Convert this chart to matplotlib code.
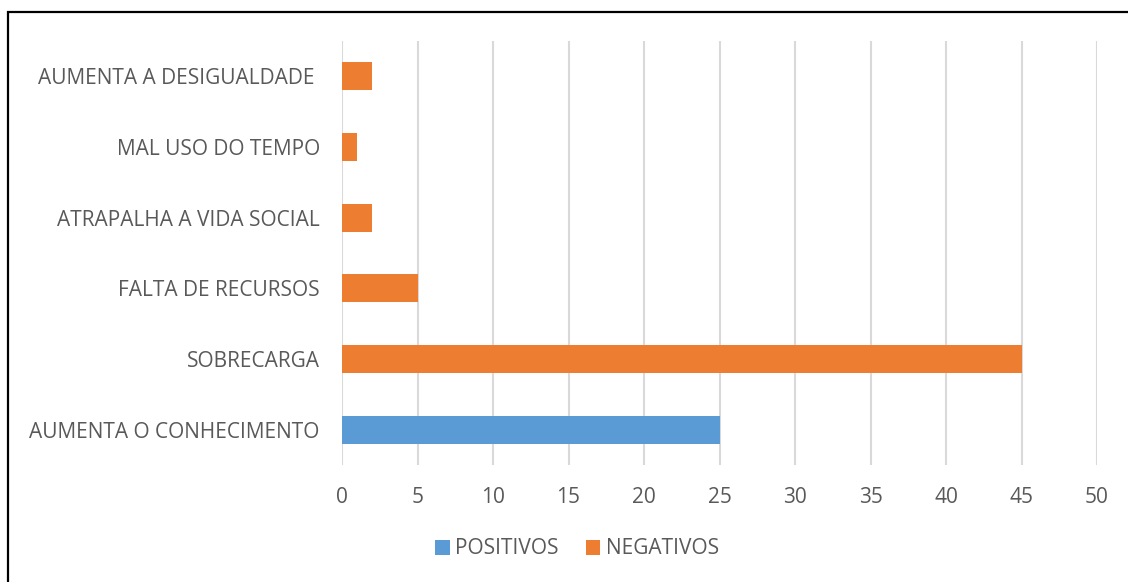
import matplotlib.pyplot as plt
from matplotlib.patches import Rectangle

categorias = [
    "AUMENTA O CONHECIMENTO",
    "SOBRECARGA",
    "FALTA DE RECURSOS",
    "ATRAPALHA A VIDA SOCIAL",
    "MAL USO DO TEMPO",
    "AUMENTA A DESIGUALDADE ",
]
positivos = [25, 0, 0, 0, 0, 0]
negativos = [0, 45, 5, 2, 1, 2]
x_ticks = list(range(0, 55, 5))

AZUL = "#5B9BD5"
LARANJA = "#ED7D31"
TEXTO = "#595959"
GRADE = "#D9D9D9"
FS = 15

plt.rcParams["font.family"] = ["Open Sans", "DejaVu Sans"]

fig = plt.figure(figsize=(11.28, 5.82), dpi=100)
ax = fig.add_axes([342 / 1128, 1 - 465 / 582, (1097 - 342) / 1128, (465 - 41) / 582])

y = list(range(len(categorias)))
ax.barh(y, positivos, height=0.4, color=AZUL, label="POSITIVOS", zorder=3)
ax.barh(y, negativos, left=positivos, height=0.4, color=LARANJA, label="NEGATIVOS", zorder=3)

ax.set_xlim(0, 50)
ax.set_ylim(-0.5, len(categorias) - 0.5)
ax.set_xticks(x_ticks)
ax.set_yticks(y)
ax.set_yticklabels(categorias)
ax.tick_params(axis="both", length=0, labelsize=FS, colors=TEXTO)
ax.tick_params(axis="x", pad=16)
ax.tick_params(axis="y", pad=16)
ax.grid(axis="x", color=GRADE, linewidth=1.5, zorder=0)
for s in ax.spines.values():
    s.set_visible(False)

leg = fig.legend(loc="center", bbox_to_anchor=(577 / 1128, 1 - 549 / 582), ncol=2,
                 frameon=False, fontsize=FS, handlelength=0.7, handleheight=0.7,
                 handletextpad=0.25, columnspacing=1.3)
for t in leg.get_texts():
    t.set_color(TEXTO)

# moldura que sai pela direita e por baixo
fig.patches.append(Rectangle((8 / 1128, -0.05), 1.2, 1 - 12 / 582 + 0.05,
                             transform=fig.transFigure, fill=False,
                             edgecolor="black", linewidth=1.6))

fig.savefig("out.png", dpi=100)
